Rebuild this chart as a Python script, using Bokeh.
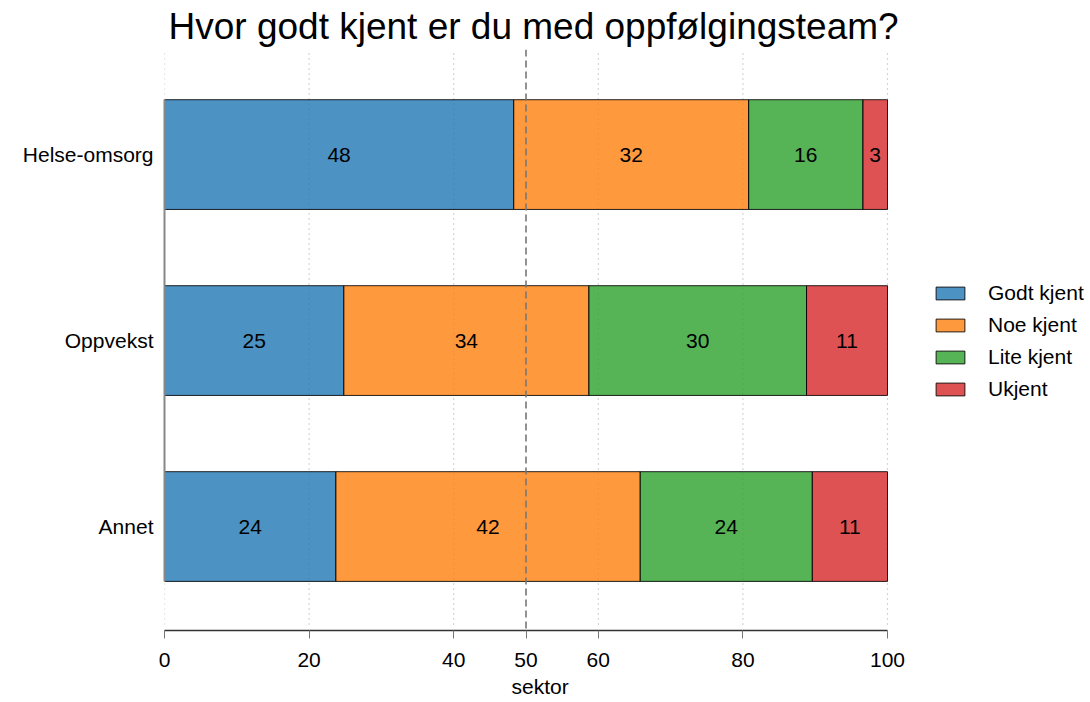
from bokeh.plotting import figure
from bokeh.models import Legend, LegendItem, FixedTicker, Span, Range1d, Title
from bokeh.embed import file_html
from bokeh.resources import INLINE
from bokeh.core.properties import value

# ---- data ----
categories = ["Helse-omsorg", "Oppvekst", "Annet"]
series = ["Godt kjent", "Noe kjent", "Lite kjent", "Ukjent"]
godt_kjent = [48.3, 24.8, 23.7]
noe_kjent = [32.5, 33.9, 42.1]
lite_kjent = [15.8, 30.1, 23.8]
ukjent = [3.4, 11.2, 10.4]
label_godt = ["48", "25", "24"]
label_noe = ["32", "34", "42"]
label_lite = ["16", "30", "24"]
label_ukjent = ["3", "11", "11"]
x_ticks = [0, 20, 40, 50, 60, 80, 100]
grid_ticks = [0, 20, 40, 60, 80, 100]
reference_line = 50

colors = ["#1f77b4", "#ff7f0e", "#2ca02c", "#d62728"]
FONT = "Liberation Sans"
FS = "21px"

ypos = [3, 2, 1]
values = [godt_kjent, noe_kjent, lite_kjent, ukjent]
labels = [label_godt, label_noe, label_lite, label_ukjent]

# frame extends past the data area so that the legend can sit at its right
PLOT_W = 723
FRAME_W = 926
x_end = 100 * FRAME_W / PLOT_W

p = figure(
    frame_width=FRAME_W, frame_height=581,
    min_border_left=164, min_border_right=0, min_border_top=4, min_border_bottom=0,
    x_range=Range1d(0, x_end), y_range=Range1d(0.441, 3.565),
    output_backend="svg", toolbar_location=None,
    title="Hvor godt kjent er du med oppfølgingsteam?",
)
p.outline_line_color = None
p.background_fill_color = "white"
p.border_fill_color = "white"
p.xgrid.grid_line_color = None
p.ygrid.grid_line_color = None

p.title.text_font = FONT
p.title.text_font_size = "37px"
p.title.text_font_style = "normal"
p.title.text_color = "black"
p.title.align = "left"
p.title.offset = 4
p.title.standoff = 6

# dotted grid
p.segment(x0=grid_ticks, x1=grid_ticks, y0=[0.473] * len(grid_ticks), y1=[3.565] * len(grid_ticks),
          line_color="#aaaaaa", line_dash="1 4", line_width=1.2)

# stacked bars
left = [0.0, 0.0, 0.0]
renderers = []
for name, vals, labs, col in zip(series, values, labels, colors):
    right = [l + v for l, v in zip(left, vals)]
    r = p.hbar(y=ypos, left=left, right=right, height=0.59,
               fill_color=col, fill_alpha=0.8, line_color="black", line_alpha=0.85, line_width=1)
    renderers.append(r)
    mids = [(l + rr) / 2 for l, rr in zip(left, right)]
    p.text(x=mids, y=ypos, text=labs, text_align="center", text_baseline="middle",
           text_font=value(FONT), text_font_size=FS, text_color="black")
    left = right

p.add_layout(Span(location=reference_line, dimension="height", line_color="#777777",
                  line_dash="7 4", line_width=1.6))

# axes
p.xaxis.ticker = FixedTicker(ticks=x_ticks)
p.xaxis.bounds = (0, 100)
p.xaxis.major_label_text_font = FONT
p.xaxis.major_label_text_font_size = FS
p.xaxis.major_label_text_color = "black"
p.xaxis.major_label_standoff = 14
p.xaxis.axis_line_color = "#333333"
p.xaxis.axis_line_width = 1.6
p.xaxis.major_tick_line_color = "#777777"
p.xaxis.major_tick_in = 0
p.xaxis.major_tick_out = 8
p.xaxis.minor_tick_line_color = None

# x axis label, centred under the data area (not the wider frame)
xlabel = Title(text="sektor", align="left", offset=347, standoff=7,
               text_font=FONT, text_font_size=FS, text_font_style="normal", text_color="black")
p.add_layout(xlabel, "below")

p.yaxis.ticker = FixedTicker(ticks=ypos)
p.yaxis.major_label_overrides = {y: c for y, c in zip(ypos, categories)}
p.yaxis.major_label_text_font = FONT
p.yaxis.major_label_text_font_size = FS
p.yaxis.major_label_text_color = "black"
p.yaxis.major_label_standoff = 5
p.yaxis.major_tick_line_color = None
p.yaxis.minor_tick_line_color = None
p.yaxis.axis_line_color = "#888888"
p.yaxis.axis_line_width = 2
p.yaxis.bounds = (0.704, 3.296)

legend = Legend(
    items=[LegendItem(label=s, renderers=[r]) for s, r in zip(series, renderers)],
    location=(768, 229),
    glyph_width=36, glyph_height=16, label_standoff=20, spacing=8,
    label_text_font=FONT, label_text_font_size=FS, label_text_color="black", label_height=20,
    padding=0, margin=0, border_line_color=None, background_fill_alpha=0,
)
p.add_layout(legend, "center")

open("out.html", "w").write(file_html(p, INLINE))
